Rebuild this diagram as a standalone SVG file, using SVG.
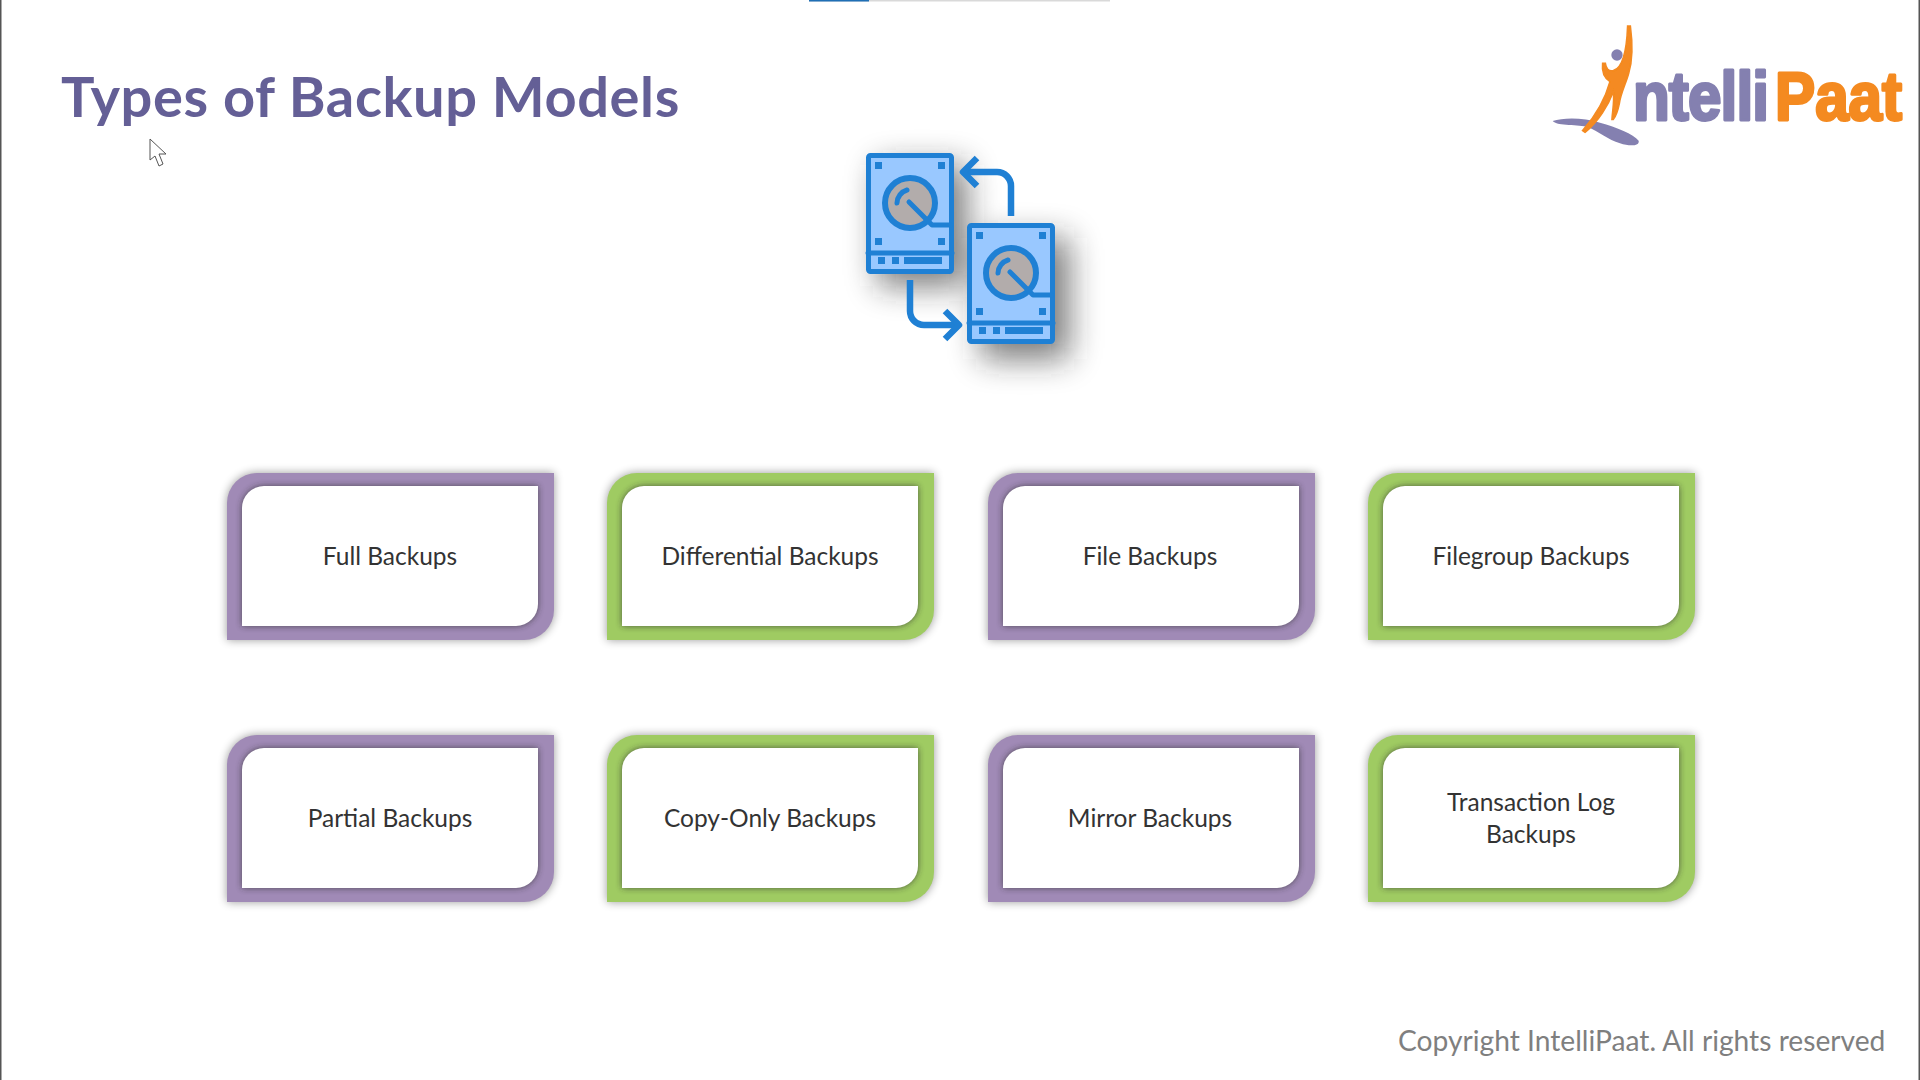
<svg xmlns="http://www.w3.org/2000/svg" width="1920" height="1080" viewBox="0 0 1920 1080">
<style>
.lbl{font-family:"Lato","Noto Sans",sans-serif;font-size:24.5px;fill:#333;text-anchor:middle}
.purple{fill:#a08ab6}
.green{fill:#9fcb62}
.d{fill:#99c8ff;stroke:#1f80d4;stroke-width:5;stroke-linejoin:round}
.s{fill:none;stroke:#1f80d4;stroke-width:5;stroke-linecap:round;stroke-linejoin:round}
.a{fill:none;stroke:#1f80d4;stroke-width:6.5;stroke-linecap:butt;stroke-linejoin:round}
.k{fill:#1f80d4}
.logo{font-family:"Liberation Sans",Arial,sans-serif;font-weight:bold;font-size:68px;stroke-width:3;stroke-linejoin:round}
</style>
<defs>
<filter id="outerShadow" x="-10%" y="-15%" width="120%" height="130%"><feGaussianBlur stdDeviation="5"/></filter>
<filter id="innerShadow" x="-10%" y="-15%" width="120%" height="130%"><feGaussianBlur stdDeviation="3"/></filter>
<filter id="iconShadow" x="-60%" y="-60%" width="220%" height="220%"><feGaussianBlur stdDeviation="16"/></filter>
<filter id="soft" x="-5%" y="-5%" width="110%" height="110%"><feGaussianBlur stdDeviation=".6"/></filter>
<path id="outer" d="M0,30 A30,30 0 0 1 30,0 H327 V137 A30,30 0 0 1 297,167 H0 Z"/>
<path id="inner" d="M0,22 A22,22 0 0 1 22,0 H296 V118 A22,22 0 0 1 274,140 H0 Z"/>
<g id="card">
<use href="#outer" fill="#000" opacity=".4" filter="url(#outerShadow)"/>
<use href="#outer"/>
<use href="#inner" x="15" y="13" fill="#2a2a2a" opacity=".7" filter="url(#innerShadow)"/>
<use href="#inner" x="15" y="13" fill="#fff"/>
</g>
<g id="disk">
<rect class="d" x="2.5" y="2.5" width="83" height="116" rx="2"/>
<path class="s" d="M2,100 H86"/>
<circle cx="44" cy="50" r="25" fill="#b2acab" stroke="#1f80d4" stroke-width="6"/>
<path class="s" d="M43,49 L66,72 H84"/>
<path class="s" d="M31,50 A14,14 0 0 1 41,37"/>
<rect class="k" x="9" y="9" width="7" height="7"/><rect class="k" x="72" y="9" width="7" height="7"/>
<rect class="k" x="9" y="85" width="7" height="7"/><rect class="k" x="72" y="85" width="7" height="7"/>
<rect class="k" x="12" y="104" width="7" height="7"/><rect class="k" x="26" y="104" width="7" height="7"/><rect class="k" x="38" y="104" width="38" height="7"/>
</g>
</defs>
<rect width="1920" height="1080" fill="#fff"/>
<rect x="0" y="0" width="1.5" height="1080" fill="#555"/>
<rect x="1918.5" y="0" width="1.5" height="1080" fill="#555"/>
<rect x="809" y="0" width="301" height="1.5" fill="#d9d9d9"/>
<rect x="809" y="0" width="60" height="1.5" fill="#1f6fb5"/>

<text id="title" x="61" y="117" font-family="'Lato',sans-serif" font-weight="700" font-size="56" letter-spacing=".6" fill="#645f96">Types of Backup Models</text>

<path id="cursor" d="M150,139 L150,160 L155,156 L159,166 L163,164 L159,154 L166,154 Z" fill="#fff" stroke="#555" stroke-width="1"/>

<g id="logo">
<g filter="url(#soft)">
<g transform="translate(1530,10) scale(.3333)">
<path d="M68,333 C100,322 160,322 210,338 C260,352 310,372 326,392 C330,408 300,410 270,400 C235,390 205,365 175,352 C145,342 85,350 68,333 Z" fill="#8480b0"/>
<path d="M293,48 L301,48 C308,100 308,150 296,190 C288,220 272,250 268,280 C264,300 258,318 250,328 L246,328 C248,300 254,270 250,245 C235,285 205,335 165,367 L158,362 C190,325 225,270 240,215 C225,205 215,185 218,160 L226,160 C228,175 235,185 250,182 C275,175 290,130 293,48 Z" fill="#f48a20" stroke="#f48a20" stroke-width="5"/>
<circle cx="261" cy="135" r="17" fill="#8480b0"/>
</g>
</g>
<text class="logo" transform="translate(1633,120) scale(.885,1)" x="0" y="0" fill="#8480b0" stroke="#8480b0" letter-spacing="-1">ntelli</text>
<text class="logo" transform="translate(1775,120) scale(.885,1)" x="0" y="0" fill="#f48a20" stroke="#f48a20">Paat</text>
</g>

<g id="icon">
<g filter="url(#iconShadow)" fill="#222" opacity=".6">
<rect x="878" y="165" width="88" height="121"/>
<rect x="981" y="238" width="88" height="121"/>
</g>
<use href="#disk" x="866" y="153"/>
<use href="#disk" x="967" y="223"/>
<path class="a" d="M1011,216 V186 A14,14 0 0 0 997,172 H965"/>
<path class="a" d="M977,158 L963,172 L977,186"/>
<path class="a" d="M910,280 V311 A14,14 0 0 0 924,325 H957"/>
<path class="a" d="M945,311 L959,325 L945,339"/>
</g>

<g id="node-full" class="purple" transform="translate(227,473)"><use href="#card"/><text class="lbl" x="163" y="92">Full Backups</text></g>
<g id="node-differential" class="green" transform="translate(607,473)"><use href="#card"/><text class="lbl" x="163" y="92">Differential Backups</text></g>
<g id="node-file" class="purple" transform="translate(988,473)"><use href="#card"/><text class="lbl" x="162" y="92">File Backups</text></g>
<g id="node-filegroup" class="green" transform="translate(1368,473)"><use href="#card"/><text class="lbl" x="163" y="92">Filegroup Backups</text></g>
<g id="node-partial" class="purple" transform="translate(227,735)"><use href="#card"/><text class="lbl" x="163" y="92">Partial Backups</text></g>
<g id="node-copy" class="green" transform="translate(607,735)"><use href="#card"/><text class="lbl" x="163" y="92">Copy-Only Backups</text></g>
<g id="node-mirror" class="purple" transform="translate(988,735)"><use href="#card"/><text class="lbl" x="162" y="92">Mirror Backups</text></g>
<g id="node-transaction" class="green" transform="translate(1368,735)"><use href="#card"/><text class="lbl" x="163" y="76">Transaction Log</text><text class="lbl" x="163" y="108">Backups</text></g>

<text id="copyright" x="1398" y="1051" font-family="'Lato','Noto Sans',sans-serif" font-size="28.2" fill="#7f7f7f">Copyright IntelliPaat. All rights reserved</text>
</svg>
